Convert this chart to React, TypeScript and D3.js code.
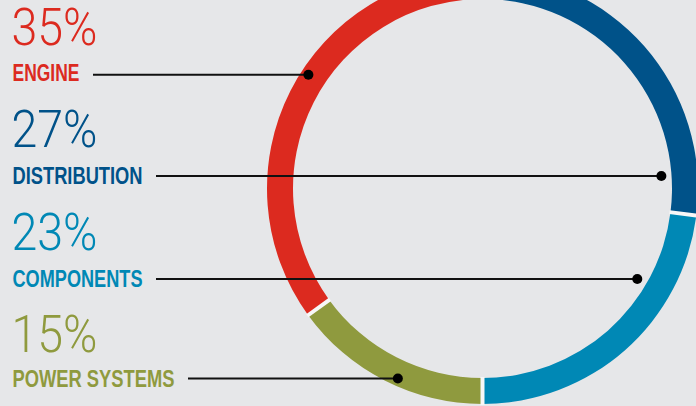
import React from "react";
import * as d3 from "d3";

const categories = ["ENGINE", "DISTRIBUTION", "COMPONENTS", "POWER SYSTEMS"];
const values = [35, 27, 23, 15];
const percentLabels = ["35%", "27%", "23%", "15%"];
const colors = ["#dc2a1f", "#005289", "#0088b5", "#8f9a3e"];

const W = 696;
const H = 406;
const BG = "#e6e7e9";
const cx = 482.5;
const cy = 188.5;
const rIn = 189.5;
const rOut = 215.5;

// layout
const pctBaselines = [45, 147, 250, 352];
const labelBaselines = [81, 183.5, 286.5, 387];
const lineYs = [74.7, 176, 279, 378.5];
const labelWidths = [67, 130, 130, 162];
const pctWidth = 86;

export default function App() {
  const total = d3.sum(values);
  const start = -(values[0] / total) * Math.PI * 2;
  const pie = d3
    .pie<number>()
    .sort(null)
    .value((d) => d)
    .startAngle(start)
    .endAngle(start + Math.PI * 2);
  const arcs = pie(values);
  const arcGen = d3.arc<d3.PieArcDatum<number>>().innerRadius(rIn).outerRadius(rOut);

  const norm = (a: number) => {
    const t = Math.PI * 2;
    return ((a % t) + t) % t;
  };
  const inRange = (a: number, s: number, e: number) => {
    const t = Math.PI * 2;
    let x = norm(a - s);
    return x <= e - s + 1e-9 && x >= 0 && e - s <= t;
  };

  const dots = arcs.map((arc, i) => {
    const y = lineYs[i];
    const dy = y - cy;
    const rm = 208;
    const c = Math.max(-1, Math.min(1, -dy / rm));
    const th = Math.acos(c);
    const cands = [th, Math.PI * 2 - th];
    let chosen = cands.find((a) => inRange(a, arc.startAngle, arc.endAngle));
    if (chosen === undefined) chosen = cands[0];
    const right = Math.sin(chosen) > 0;
    const r = right ? 179.3 : rm;
    const dx = Math.sqrt(Math.max(0, r * r - dy * dy));
    return { x: right ? cx + dx : cx - dx, y };
  });

  const boundaries = arcs.map((a) => a.startAngle);

  return (
    <svg
      width={W}
      height={H}
      style={{ position: "fixed", left: 0, top: 0, background: BG, display: "block" }}
    >
      <rect x={0} y={0} width={W} height={H} fill={BG} />
      <g transform={`translate(${cx},${cy})`}>
        {arcs.map((a, i) => (
          <path key={i} d={arcGen(a) || ""} fill={colors[i]} />
        ))}
        {boundaries.map((ang, i) => (
          <line
            key={i}
            x1={Math.sin(ang) * (rIn - 1)}
            y1={-Math.cos(ang) * (rIn - 1)}
            x2={Math.sin(ang) * (rOut + 1)}
            y2={-Math.cos(ang) * (rOut + 1)}
            stroke="#f7f7f7"
            strokeWidth={4}
          />
        ))}
      </g>
      {categories.map((c, i) => (
        <g key={c}>
          <text
            x={11.5}
            y={pctBaselines[i]}
            fill={colors[i]}
            fontFamily="Roboto, 'Liberation Sans', sans-serif"
            fontWeight={300}
            fontSize={51}
            textLength={pctWidth}
            lengthAdjust="spacingAndGlyphs"
          >
            {percentLabels[i]}
          </text>
          <text
            x={12.5}
            y={labelBaselines[i]}
            fill={colors[i]}
            fontFamily="'Liberation Sans Narrow', 'Liberation Sans', sans-serif"
            fontWeight={700}
            fontSize={23.5}
            textLength={labelWidths[i]}
            lengthAdjust="spacingAndGlyphs"
          >
            {c}
          </text>
          <line
            x1={12.5 + labelWidths[i] + 13.5}
            y1={lineYs[i]}
            x2={dots[i].x}
            y2={dots[i].y}
            stroke="#111"
            strokeWidth={2}
          />
          <circle cx={dots[i].x} cy={dots[i].y} r={5} fill="#000" />
        </g>
      ))}
    </svg>
  );
}
